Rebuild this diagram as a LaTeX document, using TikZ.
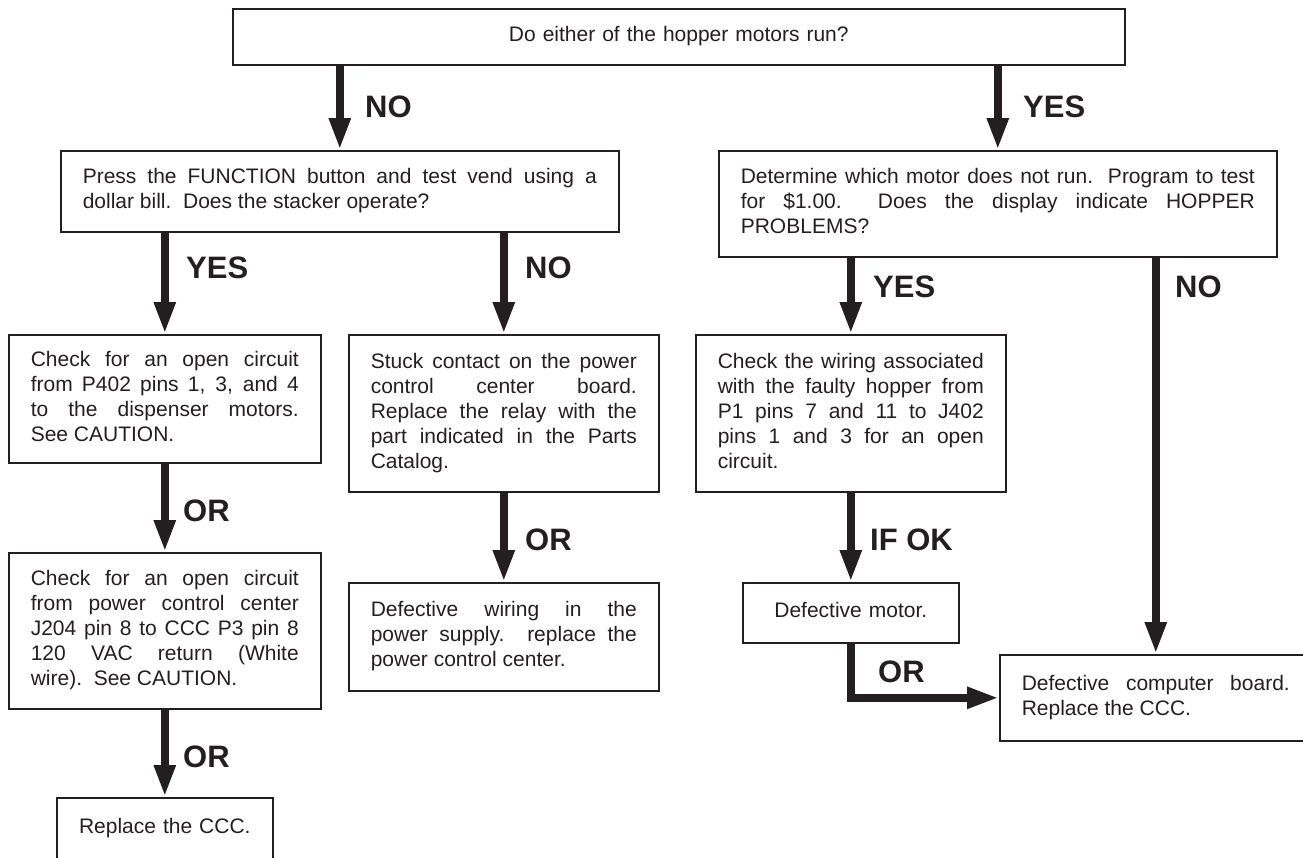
\documentclass[tikz,border=0pt]{standalone}
\usepackage{fontspec}
\setmainfont{Liberation Sans}
\usetikzlibrary{arrows.meta}
\definecolor{ink}{RGB}{35,31,32}
\newcommand\bodyfont{\fontsize{21}{25}\selectfont}
\newcommand\lblfont{\fontsize{31}{31}\selectfont\bfseries}
\begin{document}
\begin{tikzpicture}[x=1pt,y=-1pt,
  box/.style={draw=ink, line width=1.6pt, rectangle, anchor=north west, inner xsep=22pt, inner ysep=0pt,
    font=\bodyfont, text=ink, align=justify, execute at begin node=\strut, execute at end node=\strut},
  cbox/.style={box, align=center},
  bigarrow/.style={draw=ink, line width=8pt, -{Triangle[width=20pt,length=32pt]}},
  lbl/.style={font=\lblfont, text=ink, anchor=west, inner sep=0pt}]
\useasboundingbox (0,0) rectangle (1303,857);
\clip (0,0) rectangle (1303,857);

% boxes
\node[cbox, text width=848pt, minimum height=56pt] (top) at (232,8) {Do either of the hopper motors run?};
\node[box, text width=514pt, minimum height=81pt] (nq) at (60,150) {Press the FUNCTION button and test vend using a\linebreak dollar bill.\ \ Does the stacker operate?};
\node[box, text width=514pt, minimum height=106pt] (yq) at (718,150) {Determine which motor does not run.\ \ Program to test\linebreak for \$1.00.\ \ Does the display indicate HOPPER\linebreak PROBLEMS?};
\node[box, text width=268pt, minimum height=128pt] (p402) at (8,334) {Check for an open circuit\linebreak from P402 pins 1, 3, and 4\linebreak to the dispenser motors.\linebreak See CAUTION.};
\node[box, text width=266pt, minimum height=157pt] (stuck) at (348,334) {Stuck contact on the power\linebreak control center board.\linebreak Replace the relay with the\linebreak part indicated in the Parts\linebreak Catalog.};
\node[box, text width=266pt, minimum height=157pt] (wiring) at (695,334) {Check the wiring associated\linebreak with the faulty hopper from\linebreak P1 pins 7 and 11 to J402\linebreak pins 1 and 3 for an open\linebreak circuit.};
\node[box, text width=268pt, minimum height=156pt] (j204) at (8,552) {Check for an open circuit\linebreak from power control center\linebreak J204 pin 8 to CCC P3 pin 8\linebreak 120 VAC return (White\linebreak wire).\ \ See CAUTION.};
\node[box, text width=266pt, minimum height=108pt] (defw) at (348,582) {Defective wiring in the\linebreak power supply.\ \ replace the\linebreak power control center.};
\node[cbox, text width=172pt, minimum height=60pt] (motor) at (742,582) {Defective motor.};
\node[box, text width=268pt, minimum height=86pt] (cb) at (999,654) {Defective computer board.\linebreak Replace the CCC.};
\node[cbox, text width=172pt, inner ysep=18pt, text height=17.5pt, text depth=30pt] (ccc) at (56,797) {Replace the CCC.};

% connectors
\draw[bigarrow] (top.south -| nq.north) -- (nq.north);
\draw[bigarrow] (top.south -| yq.north) -- (yq.north);
\draw[bigarrow] (nq.south -| p402.north) -- (p402.north);
\draw[bigarrow] (nq.south -| stuck.north) -- (stuck.north);
\draw[bigarrow] (yq.south -| wiring.north) -- (wiring.north);
\draw[bigarrow] (yq.south -| cb.north) -- (cb.north);
\draw[bigarrow] (p402.south) -- (j204.north);
\draw[bigarrow] (j204.south) -- (ccc.north);
\draw[bigarrow] (stuck.south) -- (defw.north);
\draw[bigarrow] (wiring.south) -- (motor.north);
\draw[bigarrow] (motor.south) |- (cb.west);

% labels
\node[lbl] (l1) at (365,107) {NO};
\node[lbl] (l2) at (1023,107) {YES};
\node[lbl] (l3) at (186,268) {YES};
\node[lbl] (l4) at (525,268) {NO};
\node[lbl] (l5) at (873,287) {YES};
\node[lbl] (l6) at (1175,287) {NO};
\node[lbl] (l7) at (183,511) {OR};
\node[lbl] (l8) at (525,540) {OR};
\node[lbl] (l9) at (870,540) {IF OK};
\node[lbl] (l10) at (878,672) {OR};
\node[lbl] (l11) at (183,757) {OR};
\end{tikzpicture}
\end{document}
